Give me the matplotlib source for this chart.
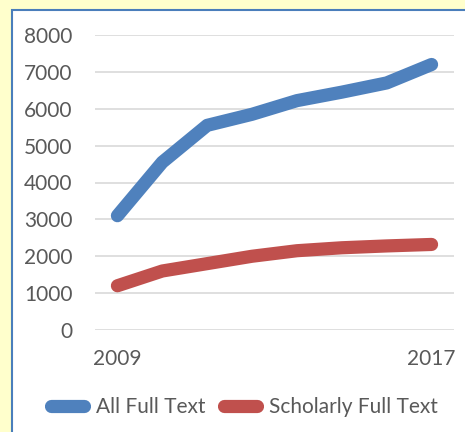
import numpy as np
import matplotlib
matplotlib.use("Agg")
import matplotlib.pyplot as plt
from matplotlib.patches import Rectangle

years = ["2009", "2010", "2011", "2012", "2013", "2014", "2015", "2017"]
all_full_text = [3100, 4550, 5550, 5850, 6220, 6450, 6700, 7200]
scholarly_full_text = [1200, 1600, 1800, 2000, 2150, 2230, 2280, 2320]
yticks = [0, 1000, 2000, 3000, 4000, 5000, 6000, 7000, 8000]

plt.rcParams['font.family'] = ['Lato', 'DejaVu Sans']
txt = '#595959'
fs = 15

fig = plt.figure(figsize=(4.65, 4.32), dpi=100, facecolor='#FFFFCC')

# white chart panel with blue border
panel = Rectangle((12 / 465, -0.05), 1.0, 1 - 10 / 432 + 0.05,
                  transform=fig.transFigure, facecolor='white',
                  edgecolor='#4A7EBB', linewidth=1.5, zorder=-1)
fig.patches.append(panel)

ax = fig.add_axes([95 / 465, 1 - 330 / 432, 359 / 465, 295 / 432])
ax.set_facecolor('none')
ind = np.arange(len(years))

ax.plot(ind, all_full_text, color='#4F81BD', lw=9.5, solid_capstyle='round',
        solid_joinstyle='round', label='All Full Text', zorder=3)
ax.plot(ind, scholarly_full_text, color='#C0504D', lw=9.5, solid_capstyle='round',
        solid_joinstyle='round', label='Scholarly Full Text', zorder=3)

ax.set_xlim(-0.5, len(years) - 0.5)
ax.set_ylim(0, 8000)
ax.set_yticks(yticks)
ax.set_yticklabels([str(v) for v in yticks])
ax.set_xticks([0, len(years) - 1])
ax.set_xticklabels([years[0], years[-1]])
ax.yaxis.grid(True, color='#D9D9D9', lw=1.2)
ax.set_axisbelow(True)
for s in ax.spines.values():
    s.set_visible(False)
ax.tick_params(axis='y', length=0, pad=16, labelsize=fs, labelcolor=txt)
ax.tick_params(axis='x', length=0, pad=14, labelsize=fs, labelcolor=txt)

leg = fig.legend(loc='center', bbox_to_anchor=(0.525, 1 - 407 / 432), ncol=2,
                 frameon=False, fontsize=fs, handlelength=1.6,
                 handletextpad=0.55, columnspacing=0.9, labelcolor=txt)
for h in leg.legend_handles:
    h.set_solid_capstyle('round')

fig.savefig("out.png", dpi=100, facecolor=fig.get_facecolor())
